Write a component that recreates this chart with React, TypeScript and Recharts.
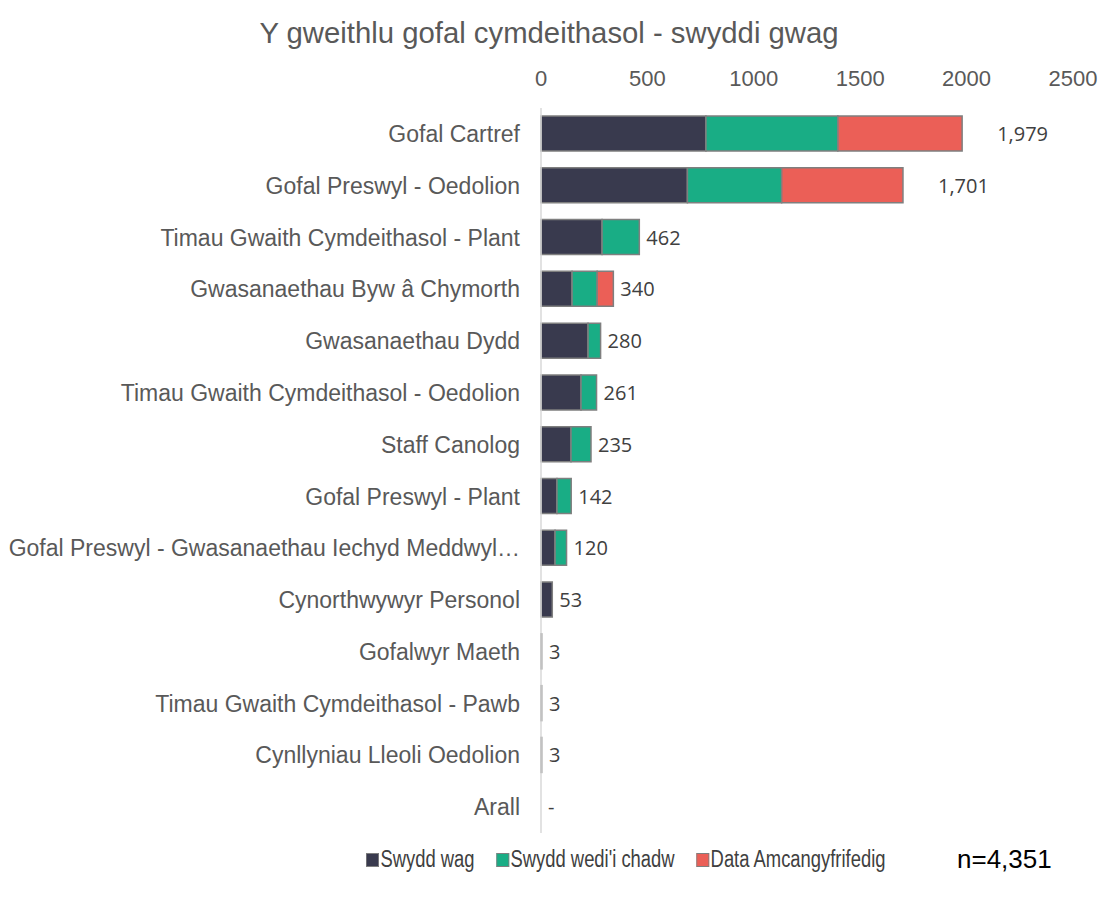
import React from "react";
import { BarChart, Bar, XAxis, YAxis, LabelList } from "recharts";

const categories = [
  "Gofal Cartref",
  "Gofal Preswyl - Oedolion",
  "Timau Gwaith Cymdeithasol - Plant",
  "Gwasanaethau Byw â Chymorth",
  "Gwasanaethau Dydd",
  "Timau Gwaith Cymdeithasol - Oedolion",
  "Staff Canolog",
  "Gofal Preswyl - Plant",
  "Gofal Preswyl - Gwasanaethau Iechyd Meddwyl…",
  "Cynorthwywyr Personol",
  "Gofalwyr Maeth",
  "Timau Gwaith Cymdeithasol - Pawb",
  "Cynllyniau Lleoli Oedolion",
  "Arall",
];

const swyddWag = [775, 688, 287, 146, 221, 188, 141, 75, 66, 53, 3, 3, 3, 0];
const swyddWediChadw = [620, 443, 175, 118, 59, 73, 94, 67, 54, 0, 0, 0, 0, 0];
const dataAmcangyfrifedig = [584, 570, 0, 76, 0, 0, 0, 0, 0, 0, 0, 0, 0, 0];
const totals = [1979, 1701, 462, 340, 280, 261, 235, 142, 120, 53, 3, 3, 3, 0];

const xTicks = [0, 500, 1000, 1500, 2000, 2500];

const seriesNames = ["Swydd wag", "Swydd wedi'i chadw", "Data Amcangyfrifedig"];
const colors = ["#393a4e", "#19ad85", "#eb5f57"];
const nLabel = "n=4,351";
const title = "Y gweithlu gofal cymdeithasol - swyddi gwag";

const data = categories.map((c, i) => ({
  name: c,
  wag: swyddWag[i],
  chadw: swyddWediChadw[i],
  amcan: dataAmcangyfrifedig[i],
  total: totals[i],
}));

const TotalLabel = (props: any) => {
  const { x, y, width, height, value } = props;
  const t = Number(value);
  const text = t === 0 ? "-" : t.toLocaleString("en-US");
  const w = t === 0 ? 0 : Number(width);
  const off = t > 1000 ? 35 : 7;
  return (
    <text
      x={Number(x) + w + off}
      y={Number(y) + Number(height) / 2}
      dominantBaseline="central"
      fontFamily="'Open Sans', sans-serif"
      fontSize={20}
      fill="#404040"
    >
      {text}
    </text>
  );
};

const font = "Arial, 'Liberation Sans', sans-serif";
const BAR = 35;

export default function App() {
  return (
    <div style={{ position: "relative", width: 1101, height: 900, fontFamily: font, overflow: "hidden" }}>
      <style>{`html,body{margin:0;padding:0;overflow:hidden;}`}</style>
      <div
        style={{
          position: "absolute",
          top: 15,
          left: 0,
          width: 1098,
          textAlign: "center",
          fontSize: 29.3,
          color: "#595959",
          lineHeight: "36px",
        }}
      >
        {title}
      </div>
      <BarChart
        width={1101}
        height={900}
        data={data}
        layout="vertical"
        margin={{ top: 48, right: 28, left: 0, bottom: 67 }}
        barGap={-BAR}
      >
        <XAxis
          type="number"
          orientation="top"
          domain={[0, 2500]}
          ticks={xTicks}
          axisLine={false}
          tickLine={false}
          tickSize={0}
          tickMargin={22}
          height={60}
          tick={{ fontSize: 22, fill: "#595959", fontFamily: font }}
        />
        <YAxis
          type="category"
          dataKey="name"
          width={541}
          tickSize={0}
          tickMargin={21}
          tickLine={false}
          axisLine={{ stroke: "#d9d9d9", strokeWidth: 1.5 }}
          interval={0}
          tick={{ fontSize: 23, fill: "#595959", fontFamily: font }}
        />
        <Bar dataKey="wag" stackId="a" barSize={BAR} fill={colors[0]} stroke="#7f7f7f" strokeWidth={1.5} isAnimationActive={false} />
        <Bar dataKey="chadw" stackId="a" barSize={BAR} fill={colors[1]} stroke="#7f7f7f" strokeWidth={1.5} isAnimationActive={false} />
        <Bar dataKey="amcan" stackId="a" barSize={BAR} fill={colors[2]} stroke="#7f7f7f" strokeWidth={1.5} isAnimationActive={false} />
        <Bar
          dataKey="total"
          barSize={BAR}
          fill="transparent"
          minPointSize={1}
          isAnimationActive={false}
        >
          <LabelList dataKey="total" content={TotalLabel} />
        </Bar>
      </BarChart>
      <div
        style={{
          position: "absolute",
          top: 846,
          left: 366,
          display: "flex",
          alignItems: "center",
          fontSize: 23,
          color: "#404040",
          whiteSpace: "nowrap",
          transform: "scaleX(0.8)",
          transformOrigin: "left center",
        }}
      >
        {seriesNames.map((s, i) => (
          <div key={s} style={{ display: "flex", alignItems: "center", marginRight: 27 }}>
            <span
              style={{
                display: "inline-block",
                width: 14,
                height: 12,
                background: colors[i],
                border: "1px solid #7f7f7f",
                marginRight: 2,
              }}
            />
            <span>{s}</span>
          </div>
        ))}
      </div>
      <div
        style={{
          position: "absolute",
          top: 844,
          left: 957,
          fontSize: 26,
          color: "#000",
          whiteSpace: "nowrap",
        }}
      >
        {nLabel}
      </div>
    </div>
  );
}
